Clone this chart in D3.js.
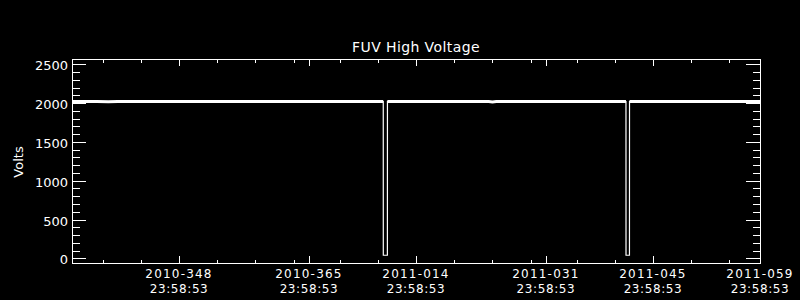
<!DOCTYPE html>
<html>
<head>
<meta charset="utf-8">
<script src="https://cdn.jsdelivr.net/npm/d3@7"></script>
<style>
  html, body { margin: 0; padding: 0; background: #000; }
  svg { display: block; }
  text { font-family: "DejaVu Sans", sans-serif; fill: #fff; }
</style>
</head>
<body>
<svg id="chart" width="800" height="300"></svg>
<script>
// FUV high voltage readings (time, volts)
var hvTimes = [
    "2010-11-30T23:58:53Z", "2010-12-04T06:00:00Z", "2010-12-05T18:00:00Z", "2010-12-07T00:00:00Z",
    "2010-12-15T00:00:00Z", "2010-12-24T00:00:00Z", "2011-01-02T00:00:00Z", "2011-01-10T17:10:00Z",
    "2011-01-10T17:20:00Z", "2011-01-11T06:10:00Z", "2011-01-11T06:20:00Z", "2011-01-18T00:00:00Z",
    "2011-01-24T12:00:00Z", "2011-01-25T00:00:00Z", "2011-01-25T12:00:00Z", "2011-02-03T12:00:00Z",
    "2011-02-11T11:10:00Z", "2011-02-11T11:20:00Z", "2011-02-11T22:10:00Z", "2011-02-11T22:20:00Z",
    "2011-02-20T00:00:00Z", "2011-02-28T23:58:53Z"
];
var hvVolts = [
    2020, 2021, 2016, 2020,
    2019, 2020, 2019, 2020,
    40, 40, 2021, 2020,
    2019, 2013, 2020, 2019,
    2020, 40, 40, 2020,
    2019, 2020
];

// axis ranges and tick positions
var xRange = ["2010-11-30T23:58:53Z", "2011-02-28T23:58:53Z"];
var majorTicks = ["2010-12-14T23:58:53Z", "2010-12-31T23:58:53Z", "2011-01-14T23:58:53Z",
                  "2011-01-31T23:58:53Z", "2011-02-14T23:58:53Z", "2011-02-28T23:58:53Z"];
var minorTicks = ["2010-12-04T23:58:53Z", "2010-12-09T23:58:53Z", "2010-12-19T23:58:53Z",
                  "2010-12-24T23:58:53Z", "2010-12-29T23:58:53Z", "2011-01-04T23:58:53Z",
                  "2011-01-09T23:58:53Z", "2011-01-19T23:58:53Z", "2011-01-24T23:58:53Z",
                  "2011-01-29T23:58:53Z", "2011-02-04T23:58:53Z", "2011-02-09T23:58:53Z",
                  "2011-02-19T23:58:53Z", "2011-02-24T23:58:53Z"];
var yRange = [-60, 2568];
var yMajor = [0, 500, 1000, 1500, 2000, 2500];
var yMinor = [100, 200, 300, 400, 600, 700, 800, 900, 1100, 1200, 1300, 1400,
              1600, 1700, 1800, 1900, 2100, 2200, 2300, 2400];

// plot box in pixels
var plotL = 72, plotR = 760, plotT = 59, plotB = 263;

var svg = d3.select("#chart");

var x = d3.scaleUtc()
    .domain(xRange.map(function(d) { return new Date(d); }))
    .range([plotL, plotR]);

var y = d3.scaleLinear()
    .domain(yRange)
    .range([plotB, plotT]);

var data = hvTimes.map(function(t, i) { return { t: new Date(t), v: hvVolts[i] }; });

// helper: draw an axis in white, ticks only
function drawAxis(axis, tx, ty) {
    var g = svg.append("g")
        .attr("transform", "translate(" + tx + "," + ty + ")")
        .attr("shape-rendering", "crispEdges")
        .call(axis);
    g.select(".domain").remove();
    g.selectAll("line").attr("stroke", "#fff");
    g.selectAll("text").remove();
    return g;
}

var majDates = majorTicks.map(function(d) { return new Date(d); });
var minDates = minorTicks.map(function(d) { return new Date(d); });

// bottom and top x ticks (pointing inward)
drawAxis(d3.axisBottom(x).tickValues(majDates).tickSize(-7).tickSizeOuter(0), 0, plotB);
drawAxis(d3.axisBottom(x).tickValues(minDates).tickSize(-3.5).tickSizeOuter(0), 0, plotB);
drawAxis(d3.axisTop(x).tickValues(majDates).tickSize(-7).tickSizeOuter(0), 0, plotT);
drawAxis(d3.axisTop(x).tickValues(minDates).tickSize(-3.5).tickSizeOuter(0), 0, plotT);

// left and right y ticks
drawAxis(d3.axisLeft(y).tickValues(yMajor).tickSize(-14).tickSizeOuter(0), plotL, 0);
drawAxis(d3.axisLeft(y).tickValues(yMinor).tickSize(-7.5).tickSizeOuter(0), plotL, 0);
drawAxis(d3.axisRight(y).tickValues(yMajor).tickSize(-14).tickSizeOuter(0), plotR, 0);
drawAxis(d3.axisRight(y).tickValues(yMinor).tickSize(-7.5).tickSizeOuter(0), plotR, 0);

// plot frame
svg.append("rect")
    .attr("x", plotL + 0.5)
    .attr("y", plotT + 0.5)
    .attr("width", plotR - plotL)
    .attr("height", plotB - plotT)
    .attr("fill", "none")
    .attr("stroke", "#fff")
    .attr("shape-rendering", "crispEdges");

// y tick labels
svg.selectAll(".ylab")
    .data(yMajor)
    .enter().append("text")
    .attr("class", "ylab")
    .attr("x", plotL - 4)
    .attr("y", function(d) { return y(d) + 6; })
    .attr("text-anchor", "end")
    .style("font-size", "13px")
    .text(function(d) { return d; });

// x tick labels (two lines: year-doy, time)
var fmtDay = d3.utcFormat("%Y-%j");
var fmtTime = d3.utcFormat("%H:%M:%S");
svg.selectAll(".xlab1")
    .data(majDates)
    .enter().append("text")
    .attr("class", "xlab1")
    .attr("x", function(d) { return x(d); })
    .attr("y", 277.5)
    .attr("text-anchor", "middle")
    .style("font-size", "12px")
    .style("letter-spacing", "1.2px")
    .text(function(d) { return fmtDay(d); });

svg.selectAll(".xlab2")
    .data(majDates)
    .enter().append("text")
    .attr("class", "xlab2")
    .attr("x", function(d) { return x(d); })
    .attr("y", 293)
    .attr("text-anchor", "middle")
    .style("font-size", "12px")
    .style("letter-spacing", "0.6px")
    .text(function(d) { return fmtTime(d); });

// title and y label
svg.append("text")
    .attr("x", (plotL + plotR) / 2)
    .attr("y", 52)
    .attr("text-anchor", "middle")
    .style("font-size", "14px")
    .style("letter-spacing", "0.4px")
    .text("FUV High Voltage");

svg.append("text")
    .attr("transform", "translate(23,162) rotate(-90)")
    .attr("text-anchor", "middle")
    .style("font-size", "13px")
    .text("Volts");

// thin line through every sample, shows the drops
var trace = d3.line()
    .x(function(d) { return x(d.t); })
    .y(function(d) { return y(d.v); });

// thick band for the steady (noisy) voltage
var band = d3.line()
    .defined(function(d) { return d.v > 1500; })
    .x(function(d) { return x(d.t); })
    .y(function(d) { return y(d.v); });

svg.append("path")
    .datum(data)
    .attr("d", trace)
    .attr("fill", "none")
    .attr("stroke", "#fff")
    .attr("stroke-width", 1.2);

svg.append("path")
    .datum(data)
    .attr("d", band)
    .attr("fill", "none")
    .attr("stroke", "#fff")
    .attr("stroke-width", 3);
</script>
</body>
</html>
